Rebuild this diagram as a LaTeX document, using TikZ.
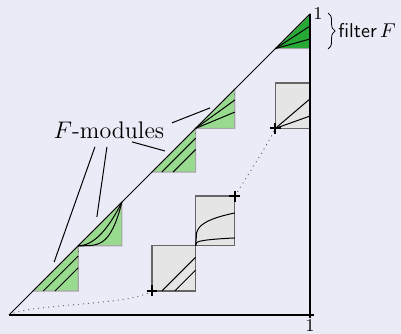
\documentclass[tikz,border=0pt]{standalone}
\usepackage{amsmath}
\usepackage{xcolor}
\usetikzlibrary{calc,decorations.pathreplacing}
\definecolor{bgcol}{RGB}{235,235,247}
\definecolor{modgreen}{RGB}{152,218,142}
\definecolor{filtgreen}{RGB}{40,168,52}
\definecolor{boxgray}{RGB}{229,229,229}
\tikzset{
  modpart/.style={fill=modgreen, draw=gray!70, line width=0.6pt},
  filtpart/.style={fill=filtgreen, draw=gray!70, line width=0.6pt},
  mapbox/.style={fill=boxgray, draw=gray!80!black, line width=0.6pt},
  inner/.style={black, line width=0.5pt},
  tickmark/.style={black, line width=1.1pt},
  idpart/.style={gray!80!black, dotted, line width=0.5pt},
  pointer/.style={black, line width=0.5pt}
}

\begin{document}
\begin{tikzpicture}[x=150.5pt, y=150.5pt]
        \fill[bgcol] (-0.0299,-0.0631) rectangle (1.3023,1.0465);
        \useasboundingbox (-0.0299,-0.0631) rectangle (1.3023,1.0465);

        \filldraw[modpart] (0.08,0.08) -- (0.23,0.08) -- (0.23,0.23) -- cycle;
        \draw[inner] (0.114,0.08) -- (0.23,0.196);
        \draw[inner] (0.153,0.08) -- (0.23,0.157);
        \draw[idpart] (0.23,0.23) -- (0.23,0.196);

        \filldraw[modpart] (0.23,0.23) -- (0.375,0.23) -- (0.375,0.375) -- cycle;
        \draw[inner, domain=0:1, samples=30] plot ({0.23+0.145*\x},{0.23+0.145*pow(\x,2)});
        \draw[inner, domain=0:1, samples=30] plot ({0.23+0.145*\x},{0.23+0.145*pow(\x,4)});

        \filldraw[modpart] (0.475,0.475) -- (0.62,0.475) -- (0.62,0.62) -- cycle;
        \draw[inner] (0.508,0.475) -- (0.62,0.587);
        \draw[inner] (0.545,0.475) -- (0.62,0.55);
        \draw[idpart] (0.62,0.62) -- (0.62,0.587);

        \filldraw[modpart] (0.62,0.62) -- (0.75,0.62) -- (0.75,0.75) -- cycle;
        \draw[inner] (0.62,0.62) -- (0.75,0.714);
        \draw[inner] (0.62,0.62) -- (0.75,0.674);
        \draw[idpart] (0.75,0.75) -- (0.75,0.714);

        \filldraw[filtpart] (0.885,0.885) -- (1,0.885) -- (1,1) -- cycle;
        \draw[inner] (0.885,0.885) -- (1,0.96);
        \draw[inner] (0.885,0.885) -- (1,0.917);

        \filldraw[mapbox] (0.475,0.08) rectangle (0.62,0.23);
        \draw[inner] (0.508,0.08) -- (0.62,0.192);
        \draw[inner] (0.551,0.08) -- (0.62,0.149);
        \draw[idpart] (0.62,0.23) -- (0.62,0.192);

        \filldraw[mapbox] (0.62,0.23) rectangle (0.75,0.395);
        \draw[inner, domain=0:1, samples=40] plot ({0.62+0.13*\x},{0.23+0.109*pow(\x,0.25)});
        \draw[inner, domain=0:1, samples=40] plot ({0.62+0.13*\x},{0.23+0.026*pow(\x,0.25)});
        \draw[idpart] (0.75,0.395) -- (0.75,0.339);

        \filldraw[mapbox] (0.885,0.62) rectangle (1,0.771);
        \draw[inner] (0.885,0.62) -- (1,0.718);
        \draw[inner] (0.885,0.62) -- (1,0.661);

        \draw[idpart] (0,0) .. controls (0.08,0.04) and (0.4,0.03) .. (0.475,0.08);
        \draw[idpart] (0.75,0.395) .. controls (0.79,0.46) and (0.85,0.55) .. (0.885,0.62);

        \foreach \cx/\cy in {0.475/0.08, 0.75/0.395, 0.885/0.62}{
            \draw[tickmark] (\cx-0.018,\cy) -- (\cx+0.018,\cy);
            \draw[tickmark] (\cx,\cy-0.018) -- (\cx,\cy+0.018);
        }

        \draw[line width=0.6pt] (0,0) -- (1.012,0);
        \draw[line width=0.6pt] (1,1) -- (1,-0.01);
        \draw[line width=0.4pt] (0,0) -- (1,1);

        \node[anchor=west, inner sep=1.5pt] (topone) at (1,1) {\small$1$};
        \node[anchor=north, inner sep=0.5pt] (botone) at (1,-0.012) {\small$1$};
        \draw[decorate, decoration={brace, amplitude=3.5pt}] (1.06,1.003) -- (1.06,0.884)
            node[midway, right=5pt, inner sep=0pt] (filt) {\textsf{filter}\,$F$};

        \node[inner sep=0pt] (lbl) at (0.332,0.615) {\large $F$-modules};
        \coordinate (p1) at (0.668,0.688);
        \coordinate (p2) at (0.518,0.545);
        \coordinate (p3) at (0.150,0.176);
        \coordinate (p4) at (0.292,0.326);
        \draw[pointer] ([shift={(31.5pt,3.5pt)}]lbl.center) -- (p1);
        \draw[pointer] ([shift={(11.5pt,-6pt)}]lbl.center) -- (p2);
        \draw[pointer] ([shift={(-7pt,-8.5pt)}]lbl.center) -- (p3);
        \draw[pointer] ([shift={(-1pt,-8.5pt)}]lbl.center) -- (p4);
\end{tikzpicture}
\end{document}
